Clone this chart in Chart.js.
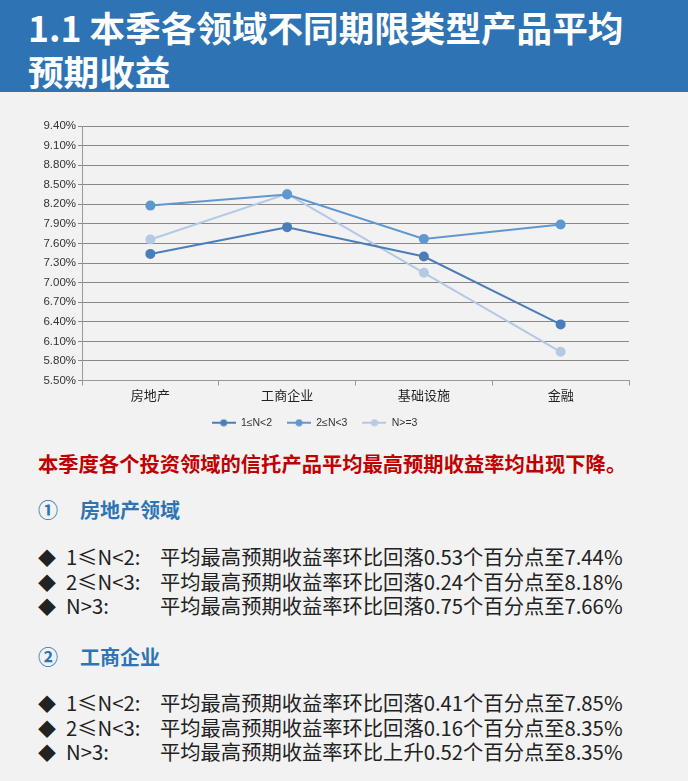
<!DOCTYPE html>
<html>
<head>
<meta charset="utf-8">
<script src="https://cdn.jsdelivr.net/npm/chart.js@4/dist/chart.umd.min.js"></script>
<style>
  body { margin: 0; width: 688px; height: 781px; background: #f2f2f2; font-family: "Noto Sans CJK SC", "Noto Sans", sans-serif; overflow: hidden; position: relative; }
  .head { position: absolute; left: 0; top: 0; width: 688px; height: 92px; background: #2e74b5; }
  .head h1 { margin: 0; position: absolute; left: 28px; top: 5px; color: #fff; font-size: 35.6px; font-weight: bold; line-height: 44px; }
  .chartbox { position: absolute; left: 0; top: 110px; width: 688px; height: 330px; }
  .txt { position: absolute; left: 38px; white-space: nowrap; }
  .red { color: #c00000; font-weight: bold; font-size: 20.3px; top: 448px; }
  .sec { color: #2e74b5; font-weight: bold; font-size: 20px; }
  .sec span { display: inline-block; width: 42px; }
  .item { color: #222; font-size: 20.3px; line-height: 23.5px; }
  .item .d { display: inline-block; width: 28px; font-size: 18px; }
  .item .l { display: inline-block; width: 94px; }
</style>
</head>
<body>
<div class="head"><h1>1.1 本季各领域不同期限类型产品平均<br>预期收益</h1></div>
<div class="chartbox"><canvas id="c" width="688" height="328"></canvas></div>

<div class="txt red">本季度各个投资领域的信托产品平均最高预期收益率均出现下降。</div>
<div class="txt sec" style="top:495px"><span>①</span>房地产领域</div>
<div class="txt item" style="top:545px">
  <div><span class="d">◆</span><span class="l">1≤N&lt;2:</span>平均最高预期收益率环比回落0.53个百分点至7.44%</div>
  <div><span class="d">◆</span><span class="l">2≤N&lt;3:</span>平均最高预期收益率环比回落0.24个百分点至8.18%</div>
  <div><span class="d">◆</span><span class="l">N&gt;3:</span>平均最高预期收益率环比回落0.75个百分点至7.66%</div>
</div>
<div class="txt sec" style="top:642px"><span>②</span>工商企业</div>
<div class="txt item" style="top:691px">
  <div><span class="d">◆</span><span class="l">1≤N&lt;2:</span>平均最高预期收益率环比回落0.41个百分点至7.85%</div>
  <div><span class="d">◆</span><span class="l">2≤N&lt;3:</span>平均最高预期收益率环比回落0.16个百分点至8.35%</div>
  <div><span class="d">◆</span><span class="l">N&gt;3:</span>平均最高预期收益率环比上升0.52个百分点至8.35%</div>
</div>

<script>
const categories = ['房地产', '工商企业', '基础设施', '金融'];
const seriesNames = ['1≤N<2', '2≤N<3', 'N>=3'];
const short = [7.44, 7.85, 7.40, 6.36];
const mid = [8.18, 8.35, 7.67, 7.89];
const long = [7.66, 8.36, 7.15, 5.94];
const yTicks = [5.5, 5.8, 6.1, 6.4, 6.7, 7.0, 7.3, 7.6, 7.9, 8.2, 8.5, 8.8, 9.1, 9.4];

const colors = ['#4a7ebb', '#5f98d0', '#b3c9e4'];

// little line + dot icon for the legend
function legendIcon(color) {
    const cv = document.createElement('canvas');
    cv.width = 24;
    cv.height = 8;
    const g = cv.getContext('2d');
    g.strokeStyle = color;
    g.lineWidth = 2;
    g.beginPath();
    g.moveTo(0, 4);
    g.lineTo(24, 4);
    g.stroke();
    g.fillStyle = color;
    g.beginPath();
    g.arc(12, 4, 3.5, 0, Math.PI * 2);
    g.fill();
    return cv;
}

const allData = [short, mid, long];

new Chart(document.getElementById('c'), {
    type: 'line',
    data: {
        labels: categories,
        datasets: allData.map((d, i) => ({
            label: seriesNames[i],
            data: d,
            borderColor: colors[i],
            backgroundColor: colors[i],
            borderWidth: 2,
            pointRadius: 4,
            pointHoverRadius: 4,
            tension: 0
        }))
    },
    options: {
        responsive: false,
        animation: false,
        layout: { padding: { left: 0, right: 59, top: 16, bottom: 0 } },
        plugins: {
            tooltip: { enabled: false },
            legend: {
                position: 'bottom',
                labels: {
                    usePointStyle: true,
                    pointStyleWidth: 24,
                    font: { size: 10.5, family: 'Liberation Sans, sans-serif' },
                    color: '#333',
                    padding: 15,
                    generateLabels: chart => chart.data.datasets.map((ds, i) => ({
                        text: ds.label,
                        pointStyle: legendIcon(colors[i]),
                        fillStyle: colors[i],
                        strokeStyle: colors[i],
                        lineWidth: 0,
                        fontColor: '#333',
                        datasetIndex: i
                    }))
                }
            }
        },
        scales: {
            x: {
                offset: true,
                grid: { offset: true, drawOnChartArea: false, drawTicks: true, tickLength: 5, color: '#999' },
                border: { color: '#999' },
                ticks: { color: '#222', font: { size: 13, family: 'Noto Sans CJK SC' }, padding: 2 },
                afterFit: s => { s.height = 22; }
            },
            y: {
                min: 5.5,
                max: 9.4,
                afterBuildTicks: s => { s.ticks = yTicks.map(v => ({ value: v })); },
                afterFit: s => { s.width = 82; },
                grid: { color: '#888', tickLength: 4 },
                border: { color: '#999' },
                ticks: {
                    color: '#333',
                    font: { size: 11.5, family: 'Liberation Sans, sans-serif' },
                    padding: 2,
                    callback: v => v.toFixed(2) + '%'
                }
            }
        }
    }
});
</script>
</body>
</html>
